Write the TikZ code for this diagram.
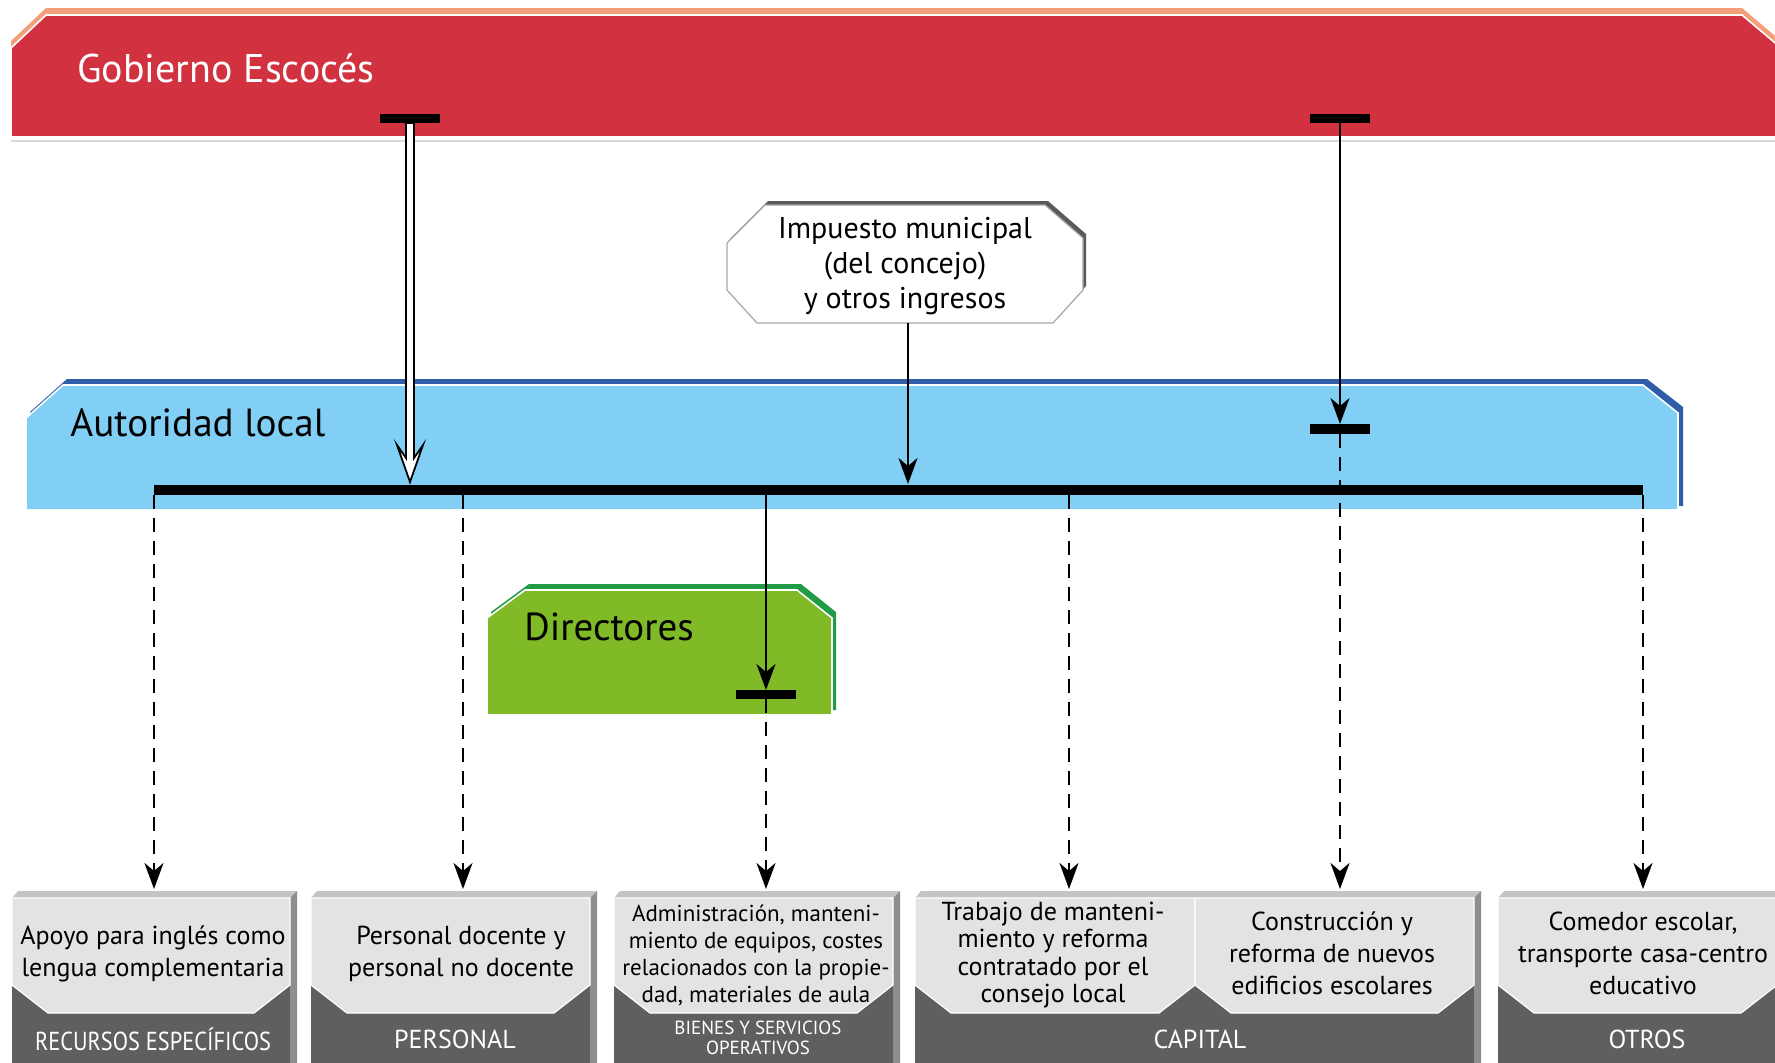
\documentclass[tikz,border=0pt]{standalone}
\usepackage{fontspec}
\usepackage{graphicx}
\setmainfont{PT Sans}
\usetikzlibrary{arrows.meta,calc}
\definecolor{redfill}{HTML}{D2323F}
\definecolor{orangeline}{HTML}{F3A07A}
\definecolor{bluefill}{HTML}{81CFF4}
\definecolor{blueline}{HTML}{2F5DA9}
\definecolor{greenfill}{HTML}{80BA27}
\definecolor{greenline}{HTML}{1F9C45}
\definecolor{boxlight}{HTML}{E3E3E3}
\definecolor{boxdark}{HTML}{5F5F5F}
\definecolor{boxtopc}{HTML}{C4C4C4}
\definecolor{boxsidec}{HTML}{8E8E8E}
\definecolor{impshadow}{HTML}{5A5A5A}
\newcommand{\blockbox}[2]{%
  \fill[boxdark] (#1,898) rectangle (#2,1070);
  \fill[boxtopc] (#1,898) -- (#1+6,891) -- (#2+7,891) -- (#2,898) -- cycle;
  \fill[boxsidec] (#2,898) -- (#2+7,891) -- (#2+7,1070) -- (#2,1070) -- cycle;}
\newcommand{\lightpanel}[2]{%
  \filldraw[fill=boxlight,draw=white,line width=0.6pt] (#1,898) -- (#2,898) -- (#2,985) -- (#2-36,1013) -- (#1+36,1013) -- (#1,985) -- cycle;}
\begin{document}
\begin{tikzpicture}[x=0.5pt,y=-0.5pt,
  captext/.style={text=white,font=\fontsize{13}{13.5}\selectfont,inner sep=0pt},
  boxtext/.style={align=center,font=\fontsize{13}{16}\selectfont,inner sep=0pt},
  headtext/.style={anchor=west,inner sep=0pt},
  capbar/.style={fill=black},
  arrowtip/.style={-{Stealth[length=13pt,width=9.5pt,inset=4pt]}},
  solidarrow/.style={line width=1.3pt,arrowtip},
  dasharrow/.style={line width=1.4pt,dash pattern=on 7pt off 4.5pt,arrowtip}]
\clip (0,0) rectangle (1775,1062);
\fill[white] (0,0) rectangle (1775,1062);

% Gobierno Escoces
\fill[orangeline] (11,41) -- (46,8) -- (1742,8) -- (1800,57) -- (1800,130) -- (11,130) -- cycle;
\filldraw[fill=redfill,draw=white,line width=0.8pt] (11,48) -- (46,15) -- (1742,15) -- (1800,64) -- (1800,137) -- (11,137) -- cycle;
\draw[black!15,line width=0.8pt] (11,141) -- (1775,141);
\node[headtext,text=white,font=\fontsize{20}{24}\selectfont] (gob) at (77,68) {Gobierno Escocés};

% Autoridad local
\fill[blueline] (30,412) -- (67,379) -- (1647,379) -- (1683,407) -- (1683,506) -- (30,506) -- cycle;
\filldraw[fill=bluefill,draw=white,line width=0.8pt] (26,418) -- (63,385) -- (1643,385) -- (1678,413) -- (1678,510) -- (26,510) -- cycle;
\node[headtext,font=\fontsize{19.6}{23}\selectfont] (aut) at (70,423) {Autoridad local};
\fill (154,485) rectangle (1643,495);

% Impuesto
\fill[impshadow] (730,239) -- (768,201) -- (1048,201) -- (1086,234) -- (1086,286) -- (1056,319) -- (760,319) -- (730,286) -- cycle;
\filldraw[fill=white,draw=black!35,line width=0.6pt] (727,243) -- (765,205) -- (1045,205) -- (1083,238) -- (1083,290) -- (1053,323) -- (757,323) -- (727,290) -- cycle;
\node[align=center,font=\fontsize{15}{17.5}\selectfont,inner sep=0pt] (imp) at (905,266) {Impuesto municipal\\(del concejo)\\y otros ingresos};

% Directores
\fill[greenline] (491,612) -- (529,584) -- (801,584) -- (836,612) -- (836,710) -- (491,710) -- cycle;
\filldraw[fill=greenfill,draw=white,line width=0.8pt] (487,618) -- (525,590) -- (797,590) -- (832,618) -- (832,715) -- (487,715) -- cycle;
\node[headtext,font=\fontsize{19.5}{23}\selectfont] (dir) at (524,627) {Directores};

% coordinates
\coordinate (gcapL) at (410,123);
\coordinate (gcapR) at (1340,123);
\coordinate (hollowtip) at (410,482);
\coordinate (acapR) at (1340,424);
\coordinate (acapRb) at (1340,434);
\coordinate (impbot) at (908,323);
\coordinate (barimp) at (908,484);
\coordinate (bar1) at (154,495);
\coordinate (bar2) at (463,495);
\coordinate (bar3) at (766,495);
\coordinate (bar4) at (1069,495);
\coordinate (bar6) at (1643,495);
\coordinate (dcap) at (766,690);
\coordinate (dcapb) at (766,699);
\coordinate (in1) at (154,889);
\coordinate (in2) at (463,889);
\coordinate (in3) at (766,889);
\coordinate (in4) at (1069,889);
\coordinate (in5) at (1340,889);
\coordinate (in6) at (1643,889);

% hollow arrow
\draw[line width=0.9pt,fill=white,line join=miter] ($(gcapL)+(-4,0)$) -- ($(hollowtip)+(-4,-24)$) -- ($(hollowtip)+(-13,-37)$) -- (hollowtip) -- ($(hollowtip)+(13,-37)$) -- ($(hollowtip)+(4,-24)$) -- ($(gcapL)+(4,0)$) -- cycle;
\draw[solidarrow] (gcapR) -- (acapR);
\draw[solidarrow] (impbot) -- (barimp);
\draw[solidarrow] (bar3) -- (dcap);

% caps
\fill[capbar] ($(gcapL)+(-30,-9)$) rectangle ($(gcapL)+(30,0)$);
\fill[capbar] ($(gcapR)+(-30,-9)$) rectangle ($(gcapR)+(30,0)$);
\fill[capbar] ($(acapR)+(-30,0)$) rectangle ($(acapR)+(30,10)$);
\fill[capbar] ($(dcap)+(-30,0)$) rectangle ($(dcap)+(30,9)$);

% dashed connectors
\draw[dasharrow] (bar1) -- (in1);
\draw[dasharrow] (bar2) -- (in2);
\draw[dasharrow] (dcapb) -- (in3);
\draw[dasharrow] (bar4) -- (in4);
\draw[dasharrow] (acapRb) -- (in5);
\draw[dasharrow] (bar6) -- (in6);

% bottom boxes
\blockbox{12}{290}
\blockbox{311}{590}
\blockbox{614}{893}
\blockbox{915}{1474}
\blockbox{1498}{1777}
\lightpanel{12}{290}
\lightpanel{311}{590}
\lightpanel{614}{893}
\lightpanel{915}{1195}
\lightpanel{1195}{1474}
\lightpanel{1498}{1777}

\node[boxtext] (t1) at (153,954) {Apoyo para inglés como\\lengua complementaria};
\node[boxtext] (t2) at (461,954) {Personal docente y\\personal no docente};
\node[boxtext,font=\fontsize{11.5}{13.5}\selectfont] (t3) at (756,955) {Administración, manteni-\\miento de equipos, costes\\relacionados con la propie-\\dad, materiales de aula};
\node[boxtext,font=\fontsize{13}{13.75}\selectfont] (t4) at (1053,955) {Trabajo de manteni-\\miento y reforma\\contratado por el\\consejo local};
\node[boxtext] (t5) at (1332,953) {Construcción y\\reforma de nuevos\\edificios escolares};
\node[boxtext] (t6) at (1643,953) {Comedor escolar,\\transporte casa-centro\\educativo};

\node[captext] (c1) at (153,1039) {\scalebox{0.86}[1]{RECURSOS ESPECÍFICOS}};
\node[captext] (c2) at (455,1039) {PERSONAL};
\node[captext,align=center,font=\fontsize{9.5}{10}\selectfont] (c3) at (758,1038) {BIENES Y SERVICIOS\\OPERATIVOS};
\node[captext] (c4) at (1200,1039) {CAPITAL};
\node[captext] (c5) at (1647,1039) {OTROS};
\end{tikzpicture}
\end{document}
